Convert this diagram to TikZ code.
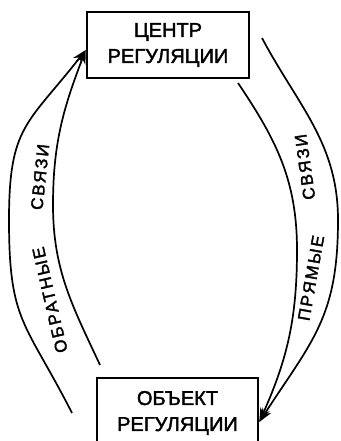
\documentclass[tikz,border=0pt]{standalone}
\usepackage{fontspec}
\setmainfont{Liberation Sans}
\newfontfamily\scanfont{Liberation Sans}[FakeBold=2]
\usetikzlibrary{arrows.meta}

\begin{document}
\begin{tikzpicture}[
    x=1pt, y=1pt,
    every node/.style={font=\scanfont\fontsize{20}{26}\selectfont},
    unit/.style={
        draw,
        line width=2.6pt,
        align=center,
        inner sep=0pt,
        minimum width=162pt,
        minimum height=66pt
    },
    lbl/.style={
        inner sep=0pt,
        font=\scanfont\fontsize{17}{20}\selectfont\addfontfeatures{LetterSpace=12}
    },
    arr/.style={-{Stealth[length=14pt, width=10pt]}, line width=1.7pt}
]

    \useasboundingbox (0,0) rectangle (340,441);

    % Centre of regulation
    \node[unit] (regcenter) at (168,396) {ЦЕНТР\\РЕГУЛЯЦИИ};

    % Object of regulation
    \node[
        unit,
        minimum width=161pt,
        minimum height=70pt
    ] (regobject) at (177.5,28) {ОБЪЕКТ\\РЕГУЛЯЦИИ};

    % Free ends
    \coordinate (fbouter) at (72,28);
    \coordinate (fbinner) at (100,76);
    \coordinate (fwouter) at (262,403);
    \coordinate (fwinner) at (238,358);

    % Feedback
    \draw[arr] (fbouter) to[out=117, in=-90, looseness=1.3] (9,221)
        to[out=90, in=232, looseness=1.3] ([yshift=-5pt]regcenter.west);
    \draw[arr] (fbinner) to[out=115, in=-90] (53,236)
        to[out=90, in=249] ([yshift=-5pt]regcenter.west);

    % Direct links
    \draw[arr] (fwouter) to[out=-62, in=90] (338,221)
        to[out=-90, in=57, looseness=1.15] ([yshift=-9pt]regobject.east);
    \draw[arr] (fwinner) to[out=-56, in=90] (297,191)
        to[out=-90, in=66] ([yshift=-9pt]regobject.east);

    % Labels
    \node[lbl, rotate=103] (fbword) at (50,141) {ОБРАТНЫЕ};
    \node[lbl, rotate=84] (fblink) at (40,264) {СВЯЗИ};
    \node[lbl, rotate=80] (fwword) at (311,163) {ПРЯМЫЕ};
    \node[lbl, rotate=98] (fwlink) at (305,274) {СВЯЗИ};

\end{tikzpicture}
\end{document}
